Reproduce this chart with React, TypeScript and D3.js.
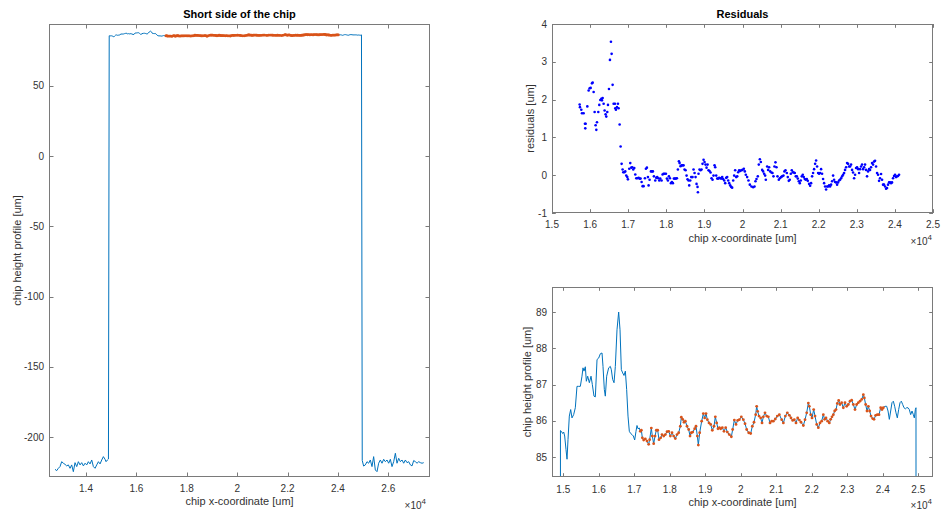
import React from 'react';
import * as d3 from 'd3';

// ---------- data ----------
// full chip height profile [um] vs x-coordinate [um]
const profileX = [
  12769, 12835, 12901, 12967, 13034, 13100, 13166, 13232, 13299, 13365, 13431, 13497, 13563, 13630, 13696, 13762,
  13828, 13895, 13961, 14027, 14093, 14159, 14226, 14292, 14358, 14424, 14491, 14557, 14623, 14689, 14755, 14795,
  14848, 14890,
  14920, 14945, 14982, 15011, 15039, 15076, 15105, 15133, 15170, 15208, 15245, 15292, 15339, 15386, 15433, 15480,
  15527, 15555, 15583, 15621, 15649, 15687, 15734, 15781, 15818, 15865, 15903, 15950, 15997, 16044, 16091, 16119,
  16156, 16184, 16222, 16278, 16325, 16353, 16391, 16429, 16466, 16513, 16560, 16598, 16635, 16673, 16710, 16748,
  16785, 16823, 16860, 16898, 16936, 16973, 17011, 17048, 17076, 17105, 17142,
  17170, 17199, 17227, 17264, 17311, 17358, 17405, 17433, 17480, 17508, 17546, 17584, 17621, 17659, 17696, 17743,
  17781, 17828, 17875, 17922, 17969, 18016, 18062, 18109, 18156, 18203, 18250, 18297, 18325, 18363, 18400, 18438,
  18485, 18532, 18570, 18607, 18645, 18701, 18738, 18776, 18804, 18842,
  18898, 18945, 18982, 19020, 19058, 19105, 19151, 19198, 19245, 19283, 19321, 19358, 19396, 19433, 19480, 19527,
  19574, 19621, 19677, 19734, 19771, 19818, 19865, 19912, 19959, 20015, 20072, 20119, 20166, 20222, 20278, 20325,
  20372, 20419, 20447, 20475, 20513, 20560, 20598, 20635, 20682, 20729, 20776, 20823, 20870, 20917, 20973, 21029,
  21086, 21152, 21199, 21255, 21311, 21368, 21414, 21461, 21508, 21555, 21602, 21649, 21696, 21762, 21809, 21856,
  21903, 21931, 21969, 22006, 22053, 22091, 22138, 22184,
  22231, 22278, 22325, 22362, 22400, 22447, 22494, 22531, 22569, 22607, 22644, 22682, 22719, 22757, 22794, 22841,
  22888, 22935, 22982, 23029, 23076, 23123, 23170, 23217, 23264, 23311, 23358, 23405, 23452, 23480, 23517, 23555,
  23593, 23630, 23668, 23715, 23752, 23799, 23846, 23893, 23940, 23978, 24015, 24062, 24109, 24147, 24184, 24222,
  24259, 24297, 24334, 24372, 24409, 24447, 24485, 24522, 24560, 24597, 24635, 24672, 24710, 24747, 24785, 24823,
  24860, 24888, 24917, 24935,
  24965, 25020, 25087, 25154, 25220, 25286, 25352, 25418, 25485, 25551, 25617, 25683, 25750, 25816, 25882, 25948,
  26015, 26081, 26147, 26213, 26280, 26346, 26412, 26478, 26545, 26611, 26677, 26743, 26810, 26876, 26942, 27008,
  27074, 27141, 27207, 27273, 27339, 27405,
];
const profileH = [
  -222.8, -223.8, -222.1, -220.9, -217.4, -218.5, -219.3, -220.4, -219.7, -222.1, -219.7, -224.5, -218.1, -220.9, -217.4, -219.7,
  -218.1, -220.4, -218.5, -219.7, -217.4, -219.0, -216.2, -220.9, -222.1, -219.7, -217.4, -219.0, -216.2, -213.8, -215.7, -217.4,
  -216.2, -215.5,
  85.73, 85.71, 85.65, 85.69, 85.58, 85.21, 84.94, 85.48, 86.13, 86.31, 86.08, 86.17, 86.36, 86.95, 86.95, 86.95,
  87.23, 87.46, 87.37, 87.49, 87.09, 87.23, 87.05, 87.23, 87.0, 86.68, 86.66, 87.69, 87.73, 87.85, 87.87, 87.5,
  86.86, 86.68, 87.23, 87.46, 87.5, 87.41, 87.14, 87.05, 87.5, 88.51, 89.0, 88.51, 87.41, 87.32, 87.25, 87.37,
  86.86, 86.13, 85.71, 85.65, 85.62, 85.58, 85.47, 85.71, 85.87, 85.78, 85.8,
  85.71, 85.74, 85.53, 85.47, 85.5, 85.44, 85.35, 85.48, 85.8, 85.58, 85.37, 85.58, 85.74, 85.74, 85.48, 85.53,
  85.62, 85.58, 85.62, 85.7, 85.71, 85.58, 85.67, 85.58, 85.51, 85.62, 85.67, 85.85, 86.1, 86.04, 85.96, 85.99,
  85.85, 85.76, 85.58, 85.67, 85.69, 85.78, 85.85, 85.58, 85.33, 85.67,
  85.99, 86.2, 86.08, 86.2, 86.03, 85.94, 85.9, 85.74, 85.85, 86.11, 85.94, 85.78, 85.81, 85.78, 85.81, 85.71,
  85.81, 85.69, 85.62, 85.56, 85.76, 86.02, 85.9, 86.01, 86.03, 86.11, 86.03, 85.92, 85.76, 85.67, 85.65, 85.85,
  85.96, 86.17, 86.4, 86.26, 86.13, 86.08, 85.94, 86.11, 86.22, 86.13, 86.11, 85.94, 85.99, 85.99, 86.05, 86.13,
  86.17, 86.03, 85.94, 86.13, 86.22, 86.15, 86.08, 86.01, 86.03, 85.94, 86.08, 86.02, 85.96, 85.87, 86.03, 86.22,
  86.49, 86.4, 86.17, 86.08, 86.31, 86.13, 85.9, 85.81,
  85.94, 85.99, 86.17, 86.04, 86.08, 85.99, 85.94, 86.04, 86.11, 86.17, 86.27, 86.31, 86.48, 86.56, 86.45, 86.5,
  86.36, 86.5, 86.4, 86.45, 86.54, 86.57, 86.45, 86.31, 86.45, 86.5, 86.54, 86.59, 86.72, 86.63, 86.45, 86.27,
  86.4, 86.27, 86.13, 86.06, 86.04, 86.15, 86.17, 86.17, 86.36, 86.31, 86.36, 86.4, 86.4, 86.27, 86.04, 86.27,
  86.5, 86.54, 86.4, 86.22, 86.08, 86.31, 86.5, 86.54, 86.45, 86.36, 86.33, 86.36, 86.36, 86.31, 86.17, 86.27,
  86.17, 86.08, 86.31, 86.36,
  -216.5, -220.5, -219.7, -217.4, -218.5, -216.2, -220.9, -213.8, -223.3, -224.5, -218.5, -216.2, -218.5, -215.7, -217.4, -216.2,
  -218.5, -215.7, -220.9, -217.4, -211.4, -218.5, -215.0, -217.4, -216.2, -218.5, -216.2, -218.1, -217.4, -219.7, -220.4, -216.6,
  -217.4, -218.5, -217.4, -218.1, -218.5, -218.1,
];
// x-range of the points used for the fit (drawn in orange)
const fitRange = [17170, 24030];

// residuals [um]
const residX = [
  15726, 15734, 15769, 15787, 15830, 15865, 15883, 15874, 15927, 15962, 15988, 16014, 16049, 16067, 16093, 16119,
  16145, 16163, 16180, 16215, 16241, 16268, 16294, 16311, 16329, 16355, 16381, 16407, 16425, 16451, 16469, 16495,
  16521, 16547, 16565, 16591, 16617, 16652, 16661, 16678, 16705, 16731, 16748, 16775, 16801, 16827, 16853, 16871,
  16897, 16923, 16949, 16976, 16993, 17028, 17054, 17081, 17107, 17133, 17159, 17186, 17212, 17238, 17273, 17299,
  17325, 17352, 17378, 17404, 17439, 17465, 17491, 17518, 17535, 17561, 17596, 17623, 17649, 17675, 17710, 17736,
  17762, 17789, 17815, 17841, 17876, 17902, 17929, 17955, 17990, 18016, 18042, 18068, 18095, 18121, 18147, 18173,
  18200, 18226, 18252, 18278, 18304, 18331, 18348, 18374, 18401, 18427, 18453, 18479, 18506, 18532, 18558, 18584,
  18602, 18628, 18654, 18689, 18715, 18742, 18768, 18794, 18820, 18830, 18846, 18872, 18899, 18925, 18951, 18978,
  19004, 19030, 19056, 19083, 19109, 19135, 19161, 19187, 19214, 19240, 19266, 19284, 19310, 19336, 19362, 19389,
  19415, 19441, 19467, 19493, 19520, 19546, 19572, 19598, 19625, 19651, 19677, 19703, 19729, 19756, 19782, 19808,
  19834, 19861, 19887, 19913, 19939, 19966,
  20000, 20035, 20061, 20087, 20122, 20157, 20192, 20236, 20280, 20315, 20341, 20367, 20402, 20428, 20455, 20481,
  20516, 20542, 20568, 20594, 20612, 20647, 20673, 20699, 20726, 20760, 20787, 20813, 20839, 20865, 20892, 20918,
  20953, 20979, 21014, 21040, 21075, 21101, 21128, 21163, 21189, 21215, 21241, 21268, 21294, 21320, 21346, 21372,
  21399, 21425, 21451, 21477, 21504, 21530, 21556, 21582, 21608, 21635, 21661, 21687, 21713, 21748, 21775, 21801,
  21827, 21853, 21879, 21906, 21932, 21958, 21984, 22011, 22037, 22063, 22089, 22115, 22142, 22168, 22194, 22220,
  22247, 22273, 22299, 22325, 22352, 22378, 22404, 22430, 22457, 22483, 22509, 22535, 22561, 22588, 22614, 22640,
  22666, 22692, 22719, 22745, 22771, 22797, 22824, 22850, 22876, 22902, 22929, 22955, 22981, 23007, 23034, 23060,
  23086, 23112, 23138, 23165, 23191, 23217, 23243, 23269, 23296, 23322, 23348, 23374, 23401, 23427, 23453, 23479,
  23506, 23532, 23558, 23584, 23610, 23637, 23663, 23689, 23715, 23742, 23768, 23794, 23820, 23846, 23873, 23899,
  23925, 23951, 23977, 24004, 24030, 24056, 24082, 24109,
];
const residY = [
  1.87, 1.80, 1.73, 1.64, 1.64, 1.36, 1.36, 1.24, 1.82, 2.24, 2.30, 2.31, 2.43, 2.45, 2.20, 1.67,
  1.32, 1.20, 1.40, 1.67, 1.86, 1.99, 2.02, 1.98, 2.04, 1.89, 1.71, 1.61, 1.55, 1.67, 1.86, 2.28,
  3.05, 3.53, 3.21, 2.39, 1.89, 1.89, 1.77, 1.73, 1.80, 1.89, 1.77, 1.34, 0.76, 0.30, 0.15, 0.08,
  0.08, 0.10, -0.01, -0.05, -0.11, 0.17, 0.32, 0.20, 0.21, 0.15, 0.19, 0.02, -0.08, -0.08, -0.07, -0.09,
  -0.09, -0.18, -0.29, -0.29, -0.08, 0.17, 0.20, -0.05, -0.27, -0.12, 0.10, 0.10, 0.10, -0.03, -0.14, -0.07,
  -0.05, -0.08, -0.14, -0.09, -0.14, 0.02, 0.04, 0.04, 0.04, -0.09, -0.14, -0.03, -0.08, -0.21, -0.18, -0.21,
  -0.09, -0.09, -0.09, -0.08, 0.15, 0.37, 0.32, 0.24, 0.26, 0.26, 0.26, 0.15, 0.13, -0.01, -0.11, -0.14,
  -0.27, -0.14, -0.05, -0.05, 0.15, 0.06, -0.05, -0.23, -0.31, -0.45, 0.04, 0.15, 0.13, 0.15, 0.30, 0.41,
  0.35, 0.28, 0.20, 0.28, 0.13, 0.11, 0.07, -0.08, -0.12, -0.01, 0.26, 0.21, -0.01, -0.09, -0.09, -0.07,
  -0.08, -0.09, -0.05, -0.10, -0.14, -0.21, -0.07, -0.05, -0.14, -0.21, -0.27, -0.31, -0.33, -0.14, -0.01, 0.13,
  -0.05, -0.03, 0.08, 0.13, 0.11, 0.13,
  0.14, 0.17, 0.10, 0.01, -0.05, -0.14, -0.25, -0.30, -0.32, -0.30, -0.16, -0.10, -0.03, 0.28, 0.42, 0.35,
  0.14, 0.10, 0.04, -0.01, -0.12, 0.23, 0.14, 0.21, 0.10, 0.07, 0.06, -0.03, 0.23, 0.34, 0.21, -0.03,
  -0.12, -0.08, -0.05, -0.03, -0.01, 0.10, 0.13, 0.06, -0.05, -0.15, -0.12, 0.04, 0.13, 0.08, 0.07, 0.06,
  -0.03, -0.03, -0.09, -0.16, -0.21, -0.14, -0.03, 0.01, -0.05, -0.10, -0.12, -0.10, -0.15, -0.23, -0.28, -0.21,
  -0.03, 0.06, 0.16, 0.30, 0.39, 0.23, 0.06, 0.04, 0.06, 0.16, 0.04, -0.10, -0.21, -0.30, -0.38, -0.30,
  -0.30, -0.27, -0.30, -0.25, -0.16, -0.01, -0.12, -0.18, -0.19, -0.25, -0.19, -0.14, -0.12, -0.08, -0.03, 0.01,
  0.06, 0.14, 0.21, 0.32, 0.30, 0.23, 0.23, 0.28, 0.14, 0.07, -0.08, 0.01, 0.19, 0.21, 0.16, 0.06,
  0.16, 0.23, 0.28, 0.16, 0.21, 0.28, 0.14, -0.03, 0.10, 0.16, 0.14, 0.21, 0.32, 0.28, 0.36, 0.38,
  0.23, 0.06, 0.01, -0.15, -0.08, 0.03, -0.12, -0.25, -0.25, -0.30, -0.36, -0.34, -0.25, -0.19, -0.19, -0.21,
  -0.19, -0.08, -0.02, 0.01, -0.05, -0.03, -0.02, 0.01,
];

// tick values
const leftXTicks = [14000, 16000, 18000, 20000, 22000, 24000, 26000];
const leftYTicks = [-200, -150, -100, -50, 0, 50];
const rightXTicks = [15000, 16000, 17000, 18000, 19000, 20000, 21000, 22000, 23000, 24000, 25000];
const residYTicks = [-1, 0, 1, 2, 3, 4];
const zoomYTicks = [85, 86, 87, 88, 89];

// ---------- styling ----------
const FONT = '"Liberation Sans", Arial, Helvetica, sans-serif';
const TXT = '#333333';
const AX = '#7a7a7a';
const BLUE = '#0072BD';
const ORANGE = '#D95319';
const DOTBLUE = '#0000FF';

const fmtX = (v: number) => String(+(v / 1e4).toFixed(1));
const fmtY = (v: number) => String(v);

type PanelProps = {
  id: string;
  x0: number; x1: number; y0: number; y1: number;
  xDomain: [number, number]; yDomain: [number, number];
  xTicks: number[]; yTicks: number[];
  tickLen: number;
  title?: string;
  xLabel: string; yLabel: string;
  xTickBase: number; xLabelBase: number; yLabelX: number; expBase: number; expEnd: number;
  render: (x: d3.ScaleLinear<number, number>, y: d3.ScaleLinear<number, number>) => React.ReactNode;
};

function Panel(p: PanelProps) {
  const x = d3.scaleLinear().domain(p.xDomain).range([p.x0, p.x1]);
  const y = d3.scaleLinear().domain(p.yDomain).range([p.y1, p.y0]);
  const cx = (p.x0 + p.x1) / 2;
  const cy = (p.y0 + p.y1) / 2;
  const t = p.tickLen;
  return (
    <g>
      <defs>
        <clipPath id={p.id}>
          <rect x={p.x0} y={p.y0} width={p.x1 - p.x0} height={p.y1 - p.y0} />
        </clipPath>
      </defs>
      <rect x={p.x0} y={p.y0} width={p.x1 - p.x0} height={p.y1 - p.y0} fill="#fff" />
      <g clipPath={`url(#${p.id})`}>{p.render(x, y)}</g>
      {/* box */}
      <rect x={p.x0 + 0.5} y={p.y0 + 0.5} width={p.x1 - p.x0 - 1} height={p.y1 - p.y0 - 1}
        fill="none" stroke={AX} strokeWidth={1} />
      {/* x ticks */}
      {p.xTicks.map((v) => {
        const px = Math.round(x(v)) + 0.5;
        return (
          <g key={'xt' + v}>
            <line x1={px} x2={px} y1={p.y1} y2={p.y1 - t} stroke={AX} />
            <line x1={px} x2={px} y1={p.y0} y2={p.y0 + t} stroke={AX} />
            <text x={x(v)} y={p.xTickBase} textAnchor="middle" fontSize={10} fill={TXT} fontFamily={FONT}>
              {fmtX(v)}
            </text>
          </g>
        );
      })}
      {/* y ticks */}
      {p.yTicks.map((v) => {
        const py = Math.round(y(v)) + 0.5;
        return (
          <g key={'yt' + v}>
            <line x1={p.x0} x2={p.x0 + t} y1={py} y2={py} stroke={AX} />
            <line x1={p.x1} x2={p.x1 - t} y1={py} y2={py} stroke={AX} />
            <text x={p.x0 - 5} y={y(v)} dy="0.35em" textAnchor="end" fontSize={10} fill={TXT} fontFamily={FONT}>
              {fmtY(v)}
            </text>
          </g>
        );
      })}
      {p.title && (
        <text x={cx} y={18} textAnchor="middle" fontSize={11} fontWeight="bold" fill="#000" fontFamily={FONT}>
          {p.title}
        </text>
      )}
      <text x={cx} y={p.xLabelBase} textAnchor="middle" fontSize={11} fill={TXT} fontFamily={FONT}>
        {p.xLabel}
      </text>
      <text transform={`translate(${p.yLabelX},${cy}) rotate(-90)`} textAnchor="middle" fontSize={11} fill={TXT}
        fontFamily={FONT}>
        {p.yLabel}
      </text>
      <text x={p.expEnd} y={p.expBase} textAnchor="end" fontSize={10} fill={TXT} fontFamily={FONT}>
        ×10<tspan dy={-5} fontSize={8}>4</tspan>
      </text>
    </g>
  );
}

export default function App() {
  const pts = profileX.map((xv, i) => ({ x: xv, h: profileH[i] }));
  const fitPts = pts.filter((d) => d.x >= fitRange[0] && d.x <= fitRange[1]);
  const resid = residX.map((xv, i) => ({ x: xv, r: residY[i] }));

  const lineFor = (x: d3.ScaleLinear<number, number>, y: d3.ScaleLinear<number, number>) =>
    d3.line<{ x: number; h: number }>().x((d) => x(d.x)).y((d) => y(d.h))(pts) || '';

  return (
    <svg width={941} height={512} style={{ position: 'absolute', left: 0, top: 0, background: '#fff' }}>
      <rect x={0} y={0} width={941} height={512} fill="#fff" />
      <Panel
        id="clipL" x0={49} x1={430} y0={24} y1={477}
        xDomain={[12530, 27655]} yDomain={[-228.3, 94.1]}
        xTicks={leftXTicks} yTicks={leftYTicks} tickLen={4.5}
        title="Short side of the chip"
        xLabel="chip x-coordinate [um]" yLabel="chip height profile [um]"
        xTickBase={492} xLabelBase={505} yLabelX={21} expBase={509} expEnd={426}
        render={(x, y) => (
          <g>
            <path d={lineFor(x, y)} fill="none" stroke={BLUE} strokeWidth={1} />
            {fitPts.map((d, i) => (
              <circle key={i} cx={x(d.x)} cy={y(d.h)} r={1.4} fill={ORANGE} />
            ))}
          </g>
        )}
      />
      <Panel
        id="clipR" x0={552} x1={933} y0={24} y1={213}
        xDomain={[15000, 25000]} yDomain={[-1, 4]}
        xTicks={rightXTicks} yTicks={residYTicks} tickLen={3.8}
        title="Residuals"
        xLabel="chip x-coordinate [um]" yLabel="residuals [um]"
        xTickBase={228} xLabelBase={242} yLabelX={534} expBase={245} expEnd={932}
        render={(x, y) => (
          <g>
            {resid.map((d, i) => (
              <circle key={i} cx={x(d.x)} cy={y(d.r)} r={1.3} fill={DOTBLUE} />
            ))}
          </g>
        )}
      />
      <Panel
        id="clipZ" x0={552} x1={933} y0={287} y1={477}
        xDomain={[14682, 25414]} yDomain={[84.45, 89.69]}
        xTicks={rightXTicks} yTicks={zoomYTicks} tickLen={3.8}
        xLabel="chip x-coordinate [um]" yLabel="chip height profile [um]"
        xTickBase={493} xLabelBase={506} yLabelX={531} expBase={509} expEnd={932}
        render={(x, y) => (
          <g>
            <path d={lineFor(x, y)} fill="none" stroke={BLUE} strokeWidth={1} />
            {fitPts.map((d, i) => (
              <circle key={i} cx={x(d.x)} cy={y(d.h)} r={1.4} fill={ORANGE} />
            ))}
          </g>
        )}
      />
    </svg>
  );
}
